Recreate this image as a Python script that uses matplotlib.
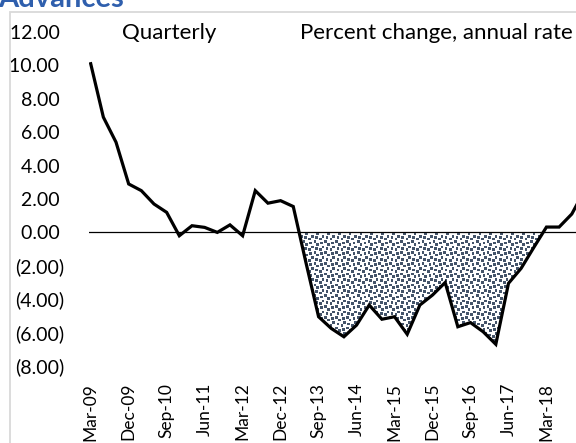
import matplotlib
matplotlib.use("Agg")
import matplotlib.pyplot as plt
import numpy as np
import pandas as pd
from matplotlib.patches import Rectangle
from matplotlib.colors import ListedColormap

plt.rcParams['font.family'] = ['Lato', 'DejaVu Sans']

# quarterly percent change, annual rate (Mar-09 .. Dec-18)
quarters = pd.date_range("2009-03-31", periods=40, freq="QE").strftime("%b-%y").tolist()
values = [10.1, 6.9, 5.4, 2.9, 2.5, 1.7, 1.2, -0.2, 0.4, 0.3,
          0.0, 0.45, -0.2, 2.5, 1.75, 1.9, 1.55, -1.8, -5.05, -5.75,
          -6.25, -5.55, -4.35, -5.2, -5.05, -6.1, -4.35, -3.75, -3.0, -5.65,
          -5.4, -5.95, -6.7, -3.05, -2.15, -0.9, 0.32, 0.32, 1.1, 2.5]
shade_start, shade_end = 16, 37   # stretch of the shaded decline
yticks = list(range(-8, 13, 2))

W, H = 576, 443
fig = plt.figure(figsize=(W / 100, H / 100), dpi=100)

# axes placed in pixel terms; right side runs past the figure edge (cropped chart)
per_q = 12.66
xmin, xmax = -0.1, 40.5
x0_px = 90.7 + xmin * per_q
ax_w = (xmax - xmin) * per_q
top_px, bot_px = 32, 366
ax = fig.add_axes([x0_px / W, (H - bot_px) / H, ax_w / W, (bot_px - top_px) / H])

x = np.arange(len(values))
y = np.array(values)

ax.axhline(0, color="black", lw=0.9, zorder=2)

# shaded area with an Excel-like "large confetti" pattern
xs, ys = x[shade_start:shade_end], y[shade_start:shade_end]
coll = ax.fill_between(xs, ys, 0, where=ys < 0, interpolate=True,
                       facecolor="none", edgecolor="none")
tile = np.array([[1, 0, 1, 1, 0, 0, 0, 1],
                 [0, 0, 1, 1, 0, 0, 0, 0],
                 [0, 0, 0, 0, 0, 0, 1, 1],
                 [0, 0, 0, 1, 1, 0, 1, 1],
                 [1, 1, 0, 1, 1, 0, 0, 0],
                 [1, 1, 0, 0, 0, 0, 0, 0],
                 [0, 0, 0, 0, 1, 1, 0, 0],
                 [1, 0, 0, 0, 1, 1, 0, 1]])
scale = 1.35
nh, nw = int((bot_px - top_px) / scale), int(ax_w / scale)
pattern = np.tile(tile, (nh // 8 + 1, nw // 8 + 1))[:nh, :nw]
im = ax.imshow(pattern, extent=[0, 1, 0, 1], transform=ax.transAxes,
               aspect="auto", interpolation="nearest",
               cmap=ListedColormap(["white", "#44546A"]), zorder=1)
im.set_clip_path(coll.get_paths()[0], transform=ax.transData)

ax.plot(x, y, color="black", lw=2.3, solid_joinstyle="miter", zorder=3)

ax.set_xlim(xmin, xmax)
ax.set_ylim(-8, 12)
for s in ax.spines.values():
    s.set_visible(False)

ax.set_yticks(yticks)
ax.set_yticklabels([f"{v:.2f} " if v >= 0 else f"({-v:.2f})" for v in yticks])
tick_idx = list(range(0, 37, 3))
ax.set_xticks(tick_idx)
ax.set_xticklabels([quarters[i] for i in tick_idx], rotation=90)
ax.tick_params(axis="both", length=0)
ax.tick_params(axis="y", pad=18, labelsize=14)
ax.tick_params(axis="x", pad=12, labelsize=12.5)

fig.text(122 / W, 1 - 33 / H, "Quarterly", fontsize=16, va="center", ha="left")
fig.text(300 / W, 1 - 33 / H, "Percent change, annual rate", fontsize=16,
         va="center", ha="left")
fig.text(-2 / W, 1 - 7 / H, "Advances", fontsize=21, fontweight="bold",
         color="#2F5FAD", va="baseline", ha="left")

fig.patches.append(Rectangle((10 / W, -0.1), 1.2, (1 - 12 / H) + 0.1,
                             transform=fig.transFigure, fill=False,
                             edgecolor="#D9D9D9", lw=1.3))

fig.savefig("out.png", dpi=100)
